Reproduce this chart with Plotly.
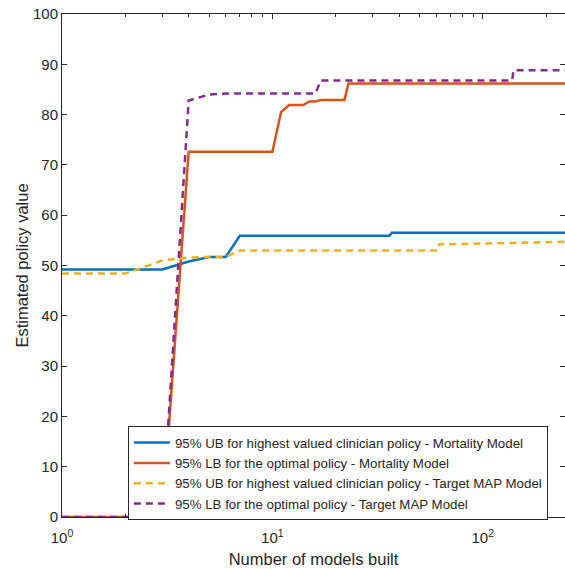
import plotly.graph_objects as go
import math

# Breakpoints (number of models built -> estimated policy value)
blue_x = [1, 3, 4, 5, 6, 7, 36, 37, 246]
blue_y = [49.2, 49.2, 50.8, 51.7, 51.7, 55.9, 55.9, 56.5, 56.5]

orange_x = [1, 3, 4, 10, 11, 12, 14, 15, 16, 17, 22, 23, 246]
orange_y = [0, 0, 72.6, 72.6, 80.5, 81.9, 81.9, 82.6, 82.6, 82.9, 82.9, 86.2, 86.2]

yellow_x = [1, 2, 3, 4, 5, 6, 7, 61, 62, 100, 150, 246]
yellow_y = [48.4, 48.4, 51.0, 51.6, 51.7, 51.7, 53.0, 53.0, 54.2, 54.4, 54.5, 54.7]

purple_x = [1, 3, 4, 5, 6, 16, 17, 138, 140, 246]
purple_y = [0, 0, 82.8, 84.0, 84.2, 84.2, 86.8, 86.8, 88.8, 88.8]

names = [
    "95% UB for highest valued clinician policy - Mortality Model",
    "95% LB for the optimal policy - Mortality Model",
    "95% UB for highest valued clinician policy - Target MAP Model",
    "95% LB for the optimal policy - Target MAP Model",
]
colors = ["#0072BD", "#D95319", "#EDB120", "#7E2F8E"]
dashes = ["solid", "solid", "7px,5px", "7px,5px"]

xs = [blue_x, orange_x, yellow_x, purple_x]
ys = [blue_y, orange_y, yellow_y, purple_y]

fig = go.Figure()
for x, y, n, c, d in zip(xs, ys, names, colors, dashes):
    fig.add_trace(go.Scatter(x=x, y=y, mode="lines", name=n,
                             line=dict(color=c, width=2.5, dash=d)))

axcol = "#262626"
minor_vals = [v * m for m in (1, 10, 100) for v in range(2, 10) if v * m <= 246]

fig.update_layout(
    width=565, height=569,
    margin=dict(l=62, r=0, t=14, b=52),
    paper_bgcolor="white", plot_bgcolor="white",
    font=dict(family="Liberation Sans, Arial, sans-serif", color=axcol, size=15),
    showlegend=True,
    legend=dict(x=0.131, y=0.18, xanchor="left", yanchor="top",
                bgcolor="white", bordercolor=axcol, borderwidth=1,
                itemwidth=36,
                font=dict(size=13.3, color=axcol), tracegroupgap=0),
    xaxis=dict(type="log", range=[0, math.log10(246)], automargin=False,
               showline=True, linecolor=axcol, linewidth=1, mirror="ticks",
               ticks="inside", ticklen=5, tickcolor=axcol, ticklabelstandoff=7,
               ticklabeloverflow="allow",
               tickvals=[1, 10, 100],
               ticktext=["10<sup>0</sup>", "10<sup>1</sup>", "10<sup>2</sup>"],
               minor=dict(tickvals=minor_vals, ticks="inside", ticklen=3, tickcolor=axcol),
               showgrid=False, zeroline=False,
               title=dict(text="Number of models built", font=dict(size=16.5), standoff=8)),
    yaxis=dict(range=[0, 100], tickvals=list(range(0, 101, 10)), automargin=False,
               showline=True, linecolor=axcol, linewidth=1, mirror="ticks",
               ticks="inside", ticklen=5, tickcolor=axcol,
               ticklabeloverflow="allow",
               showgrid=False, zeroline=False,
               title=dict(text="Estimated policy value", font=dict(size=16.5), standoff=0)),
)

fig.write_html(
    "out.html",
    config={"displayModeBar": False},
    post_script="document.body.style.margin='0';document.body.style.overflow='hidden';",
)
